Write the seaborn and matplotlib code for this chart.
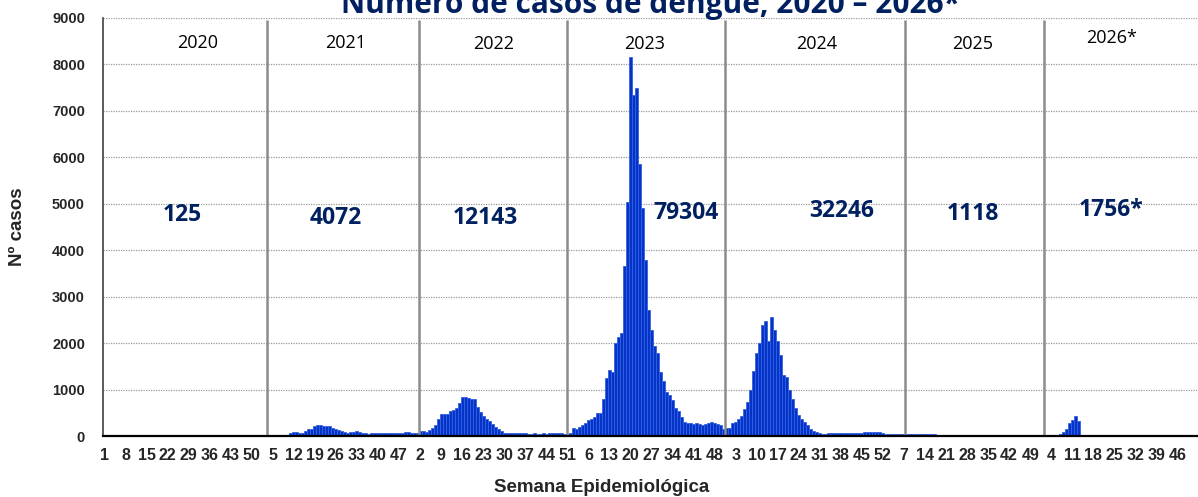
import numpy as np
import pandas as pd
import matplotlib
matplotlib.use("Agg")
import matplotlib.pyplot as plt
import seaborn as sns

# weekly dengue cases, 52 epidemiological weeks per year
y2020 = [3, 2, 4, 3, 2, 3, 4, 2, 3, 2, 3, 2, 3, 4, 3, 2,
         3, 2, 3, 4, 2, 3, 2, 3, 0, 2, 3, 2, 0, 0, 2, 3, 4, 3, 2,
         0, 0, 0, 2, 3, 3, 2, 4, 3, 2, 3, 4, 2, 3, 0, 2, 3]
y2021 = [10, 12, 15, 15, 18, 20, 22, 25, 28, 30,
         75, 80, 80, 70, 65,
         110, 140, 160, 210, 245, 240, 205, 215, 205, 175, 150, 125, 100, 80, 70,
         85, 95, 100, 85, 65,
         55, 52, 55, 65, 70, 70, 65, 68, 65, 62, 62, 58, 62, 80, 85, 70, 60]
y2022 = [60, 110, 115, 95, 130, 180, 240, 360, 470, 475,
         480, 530, 570, 610, 720, 830, 840, 820, 790, 800,
         620, 520, 430, 370, 320, 250, 190, 140, 100, 70,
         60, 60, 70, 70, 60, 55, 55, 50, 50, 55,
         50, 50, 55, 50, 60, 70, 60, 55, 60, 50, 50, 60]
y2023 = [180, 160, 200, 240, 270, 340, 360, 400, 490, 490,
         800, 1250, 1430, 1380, 2000, 2130, 2210, 3660, 5040, 8150,
         7350, 7500, 5850, 4900, 3800, 2720, 2280, 1940, 1780, 1380,
         1180, 950, 880, 770, 610, 540, 415, 310, 290, 280,
         260, 270, 260, 240, 260, 290, 310, 280, 250, 240, 160, 170]
y2024 = [170, 290, 310, 360, 440, 580, 740, 1000, 1390, 1780,
         2000, 2390, 2480, 2050, 2570, 2280, 2050, 1740, 1310, 1270,
         990, 800, 600, 460, 360, 300, 240, 160, 110, 80,
         55, 50, 50, 60, 62, 65, 70, 72, 70, 72,
         74, 72, 70, 72, 75, 80, 85, 80, 95, 90, 80, 75]
y2025 = [45, 42, 40, 42, 38, 40, 38,
         45, 48, 45, 46, 44, 48, 45, 46,
         50, 48,
         30, 28, 26, 28, 25, 24, 26, 22,
         20,
         12, 10, 11, 10, 9, 10, 10, 8, 9, 10, 9, 8, 9, 10, 9, 8, 10, 9, 8, 10, 9, 12, 10, 9, 8, 10]
y2026 = [15, 14, 16, 18, 20, 28, 50, 86, 158, 280, 338, 424, 324] + [0] * 39

years = ["2020", "2021", "2022", "2023", "2024", "2025", "2026*"]
totals = ["125", "4072", "12143", "79304", "32246", "1118", "1756*"]

series = [y2020, y2021, y2022, y2023, y2024, y2025, y2026]
casos = np.concatenate(series)
semana = np.concatenate([np.arange(1, len(s) + 1) for s in series])
df = pd.DataFrame({"idx": np.arange(len(casos)), "semana": semana, "casos": casos})

# layout (data x units) for hand-drawn dividers and annotations
divider_x = [54.2, 104.6, 153.8, 206.6, 266.4, 312.6]
year_x = [30.9, 80.2, 129.4, 179.7, 236.9, 289.0, 335.0]
year_y = [8460, 8460, 8440, 8440, 8440, 8440, 8570]
total_x = [26.0, 76.9, 126.7, 193.5, 245.3, 288.8, 335.0]
total_y = [4760, 4700, 4700, 4800, 4840, 4780, 4870]

navy = "#002060"
bar_blue = "#0433C9"
num_font = ["Liberation Sans", "DejaVu Sans"]
txt_font = ["Open Sans", "DejaVu Sans"]

sns.set_style("white")
fig = plt.figure(figsize=(11.98, 4.97), dpi=100)
ax = fig.add_axes([103 / 1198, 1 - 436 / 497, 1094 / 1198, 418 / 497])

sns.barplot(data=df, x="idx", y="casos", native_scale=True, width=1.0,
            color=bar_blue, saturation=1, edgecolor="#3562E0", linewidth=0.6,
            errorbar=None, ax=ax, zorder=2)

ax.set_xlim(-0.5, len(casos) - 0.5)
ax.set_ylim(0, 9000)
ax.set_yticks(np.arange(0, 9001, 1000))
ax.set_yticklabels([str(v) for v in range(0, 9001, 1000)],
                   fontsize=10.5, fontweight="bold", family=num_font)
ax.yaxis.grid(True, linestyle=(0, (1, 1)), color="#9a9a9a", lw=0.9, zorder=0)
ax.set_axisbelow(True)

ax.set_xticks(df["idx"][::7])
ax.set_xticklabels(df["semana"][::7].astype(str), fontsize=11.5,
                   fontweight="bold", family=num_font)
ax.set_xticks(df["idx"], minor=True)
ax.tick_params(axis="x", which="both", direction="out", length=5, width=0.8,
               color="#404040", pad=4)
ax.tick_params(axis="y", direction="out", length=5, width=0.8, color="#404040", pad=8)

for side in ["top", "right"]:
    ax.spines[side].set_visible(False)
ax.spines["left"].set_color("#404040")
ax.spines["left"].set_linewidth(1.2)
ax.spines["bottom"].set_color("black")
ax.spines["bottom"].set_linewidth(1.6)
ax.spines["bottom"].set_zorder(5)
ax.set_xlabel("")
ax.set_ylabel("")

ax.vlines(divider_x, 0, 8950, color="#8c8c8c", lw=1.8, zorder=3)

for x, y, t in zip(year_x, year_y, years):
    ax.text(x, y, t, ha="center", va="center", fontsize=13, family=txt_font,
            color="black", zorder=4)
for x, y, t in zip(total_x, total_y, totals):
    ax.text(x, y, t, ha="center", va="center", fontsize=16.5, fontweight="bold",
            family=txt_font, color=navy, zorder=4)

# title sits partly above the canvas, as in the source
fig.text(650 / 1198, 1 - 13 / 497, "Número de casos de dengue, 2020 – 2026*",
         ha="center", va="baseline", fontsize=21.5, fontweight="bold",
         family=txt_font, color=navy)
fig.text(18 / 1198, 1 - 227 / 497, "Nº casos", rotation=90, ha="center",
         va="center", fontsize=13.5, fontweight="bold", family=num_font)
fig.text(602 / 1198, 1 - 488 / 497, "Semana Epidemiológica", ha="center",
         va="center", fontsize=13.5, fontweight="bold", family=num_font)

fig.savefig("out.png", dpi=100)
